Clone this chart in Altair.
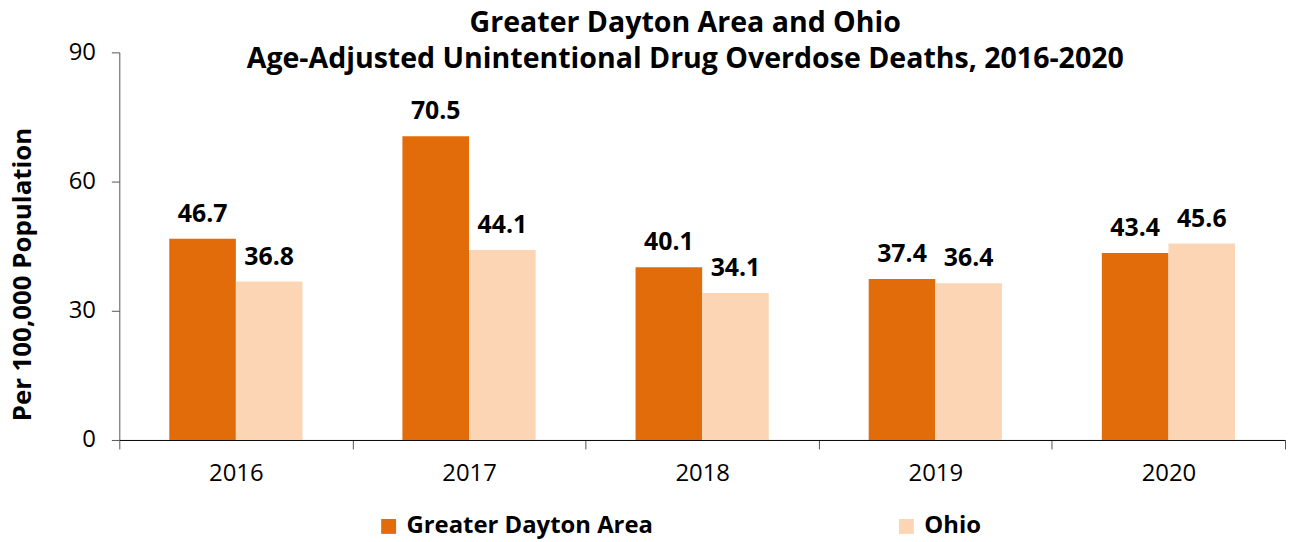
import altair as alt
import pandas as pd

years = ["2016", "2017", "2018", "2019", "2020"]
dayton = [46.7, 70.5, 40.1, 37.4, 43.4]
ohio = [36.8, 44.1, 34.1, 36.4, 45.6]
series = ["Greater Dayton Area", "Ohio"]
colors = ["#E36C0A", "#FCD5B5"]

rows = []
for i, y in enumerate(years):
    rows.append({"year": y, "series": series[0], "value": dayton[i]})
    rows.append({"year": y, "series": series[1], "value": ohio[i]})
df = pd.DataFrame(rows)

FONT = "Open Sans"

x = alt.X("year:N", sort=years, title=None,
          scale=alt.Scale(paddingInner=0, paddingOuter=0),
          axis=alt.Axis(labelAngle=0, labelFontSize=24, labelColor="#000000",
                        labelFont=FONT, tickBand="extent", tickSize=9,
                        tickColor="#555555", domainColor="#000000",
                        labelPadding=13))
xo = alt.XOffset("series:N", sort=series,
                 scale=alt.Scale(paddingInner=0, paddingOuter=0.75))
y = alt.Y("value:Q", title="Per 100,000 Population",
          scale=alt.Scale(domain=[0, 90]),
          axis=alt.Axis(values=[0, 30, 60, 90], grid=False, labelFontSize=24,
                        labelFont=FONT, labelColor="#000000",
                        titleFontSize=26, titleFont=FONT, titleFontWeight="bold",
                        titleColor="#000000", titlePadding=33, titleY=223,
                        tickSize=8, tickColor="#555555", domainColor="#555555",
                        labelPadding=16))

bars = alt.Chart(df).mark_bar().encode(
    x=x, xOffset=xo, y=y,
    color=alt.Color("series:N", sort=series,
                    scale=alt.Scale(domain=series, range=colors),
                    legend=alt.Legend(title=None, orient="none", legendX=259, legendY=465,
                                      direction="horizontal", symbolType="square",
                                      symbolSize=225, symbolStrokeWidth=0,
                                      labelFontSize=24, labelFont=FONT,
                                      labelFontWeight="bold", labelColor="#000000",
                                      labelLimit=500,
                                      columnPadding=242, symbolOffset=0,
                                      labelOffset=6)),
)

labels = alt.Chart(df).mark_text(baseline="bottom", dy=-12, fontSize=25,
                                 fontWeight="bold", font=FONT, color="#000000").encode(
    x=x, xOffset=xo, y=y, text=alt.Text("value:Q", format=".1f"))

chart = (bars + labels).properties(
    width=1173, height=390,
    padding={"left": 112, "top": 43, "right": 3, "bottom": 100},
    autosize=alt.AutoSizeParams(type="none"),
    title=alt.Title(text=["Greater Dayton Area and Ohio",
                          "Age-Adjusted Unintentional Drug Overdose Deaths, 2016-2020"],
                    fontSize=28.7, font=FONT, fontWeight="bold", color="#000000",
                    anchor="middle", dx=-17, offset=-33, lineHeight=36)
).configure_view(stroke=None).configure_axis(domainWidth=1)

chart.save("out.html", embed_options={"renderer": "svg", "actions": False})
